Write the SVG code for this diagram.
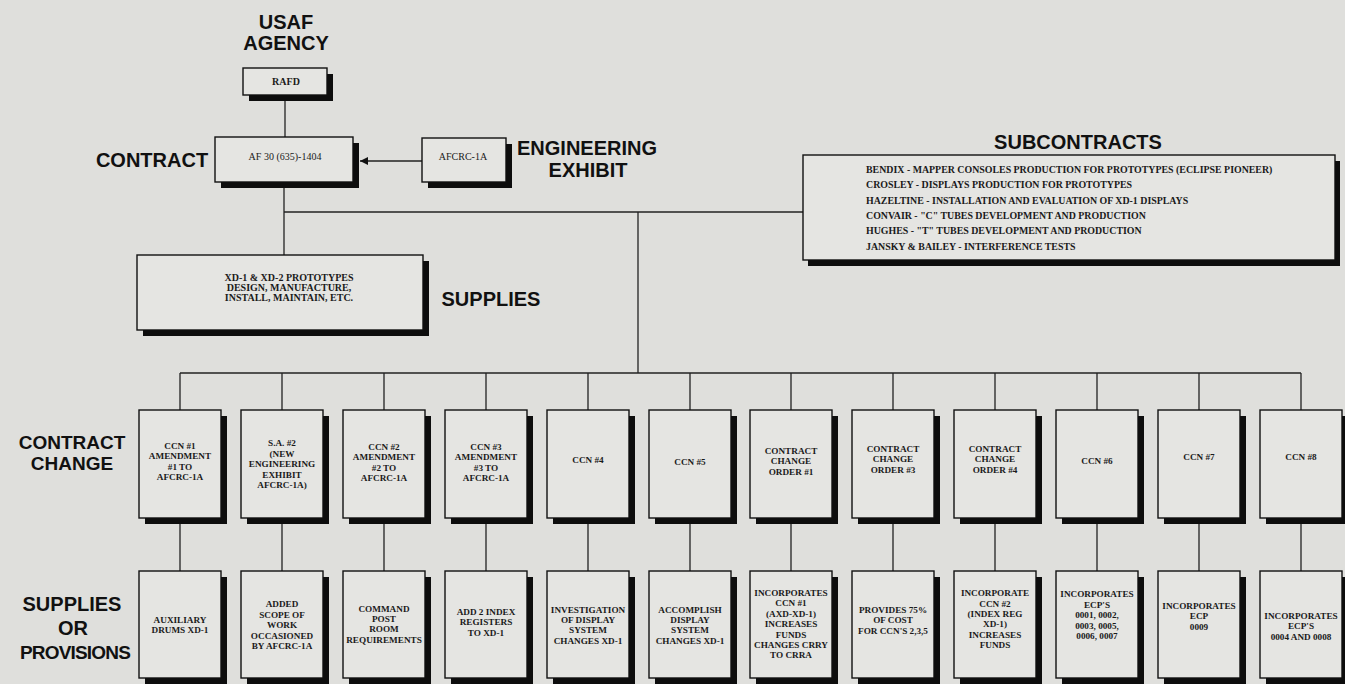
<svg xmlns="http://www.w3.org/2000/svg" width="1345" height="684" viewBox="0 0 1345 684">
<defs>
<style>
.bg{fill:#dfdfdc}
.box{fill:#e5e5e2;stroke:#111;stroke-width:1.4}
.sh{fill:#0d0d0d}
.conn{stroke:#222;stroke-width:1.3;fill:none}
.lbl{font-family:"Liberation Sans",Arial,sans-serif;font-weight:bold;font-size:20px;fill:#111;text-anchor:middle}
.t{font-family:"Liberation Serif","Times New Roman",serif;font-weight:bold;font-size:9.2px;fill:#1a1a1a;text-anchor:middle}
.tm{font-family:"Liberation Serif","Times New Roman",serif;font-weight:bold;font-size:10px;fill:#1a1a1a;text-anchor:middle}
.tr{font-family:"Liberation Serif","Times New Roman",serif;font-size:10px;fill:#1a1a1a;text-anchor:middle}
.ts{font-family:"Liberation Serif","Times New Roman",serif;font-weight:bold;font-size:9.9px;fill:#1a1a1a;text-anchor:start}
</style>
<marker id="arr" viewBox="0 0 10 10" refX="10" refY="5" markerWidth="9" markerHeight="8" markerUnits="userSpaceOnUse" orient="auto">
<path d="M0,0 L10,5 L0,10 z" fill="#111"/>
</marker>
</defs>
<rect class="bg" x="0" y="0" width="1345" height="684"/>

<g id="connectors">
<line class="conn" x1="285" y1="98" x2="285" y2="137"/>
<line class="conn" x1="422" y1="161" x2="360" y2="161" marker-end="url(#arr)"/>
<line class="conn" x1="284" y1="188" x2="284" y2="255"/>
<line class="conn" x1="284" y1="212" x2="803" y2="212"/>
<line class="conn" x1="638" y1="212" x2="638" y2="373"/>
<line class="conn" x1="180" y1="373" x2="1301" y2="373"/>
<path class="conn" d="M180,373V410M282,373V410M384,373V410M486,373V410M588,373V410M690,373V410M791,373V410M893,373V410M995,373V410M1097,373V410M1199,373V410M1301,373V410"/>
<path class="conn" d="M180,524V571M282,524V571M384,524V571M486,524V571M588,524V571M690,524V571M791,524V571M893,524V571M995,524V571M1097,524V571M1199,524V571M1301,524V571"/>
</g>

<g id="labels">
<text class="lbl" x="286" y="29">USAF</text>
<text class="lbl" x="286" y="50">AGENCY</text>
<text class="lbl" x="152" y="167">CONTRACT</text>
<text class="lbl" x="587" y="155">ENGINEERING</text>
<text class="lbl" x="588" y="177">EXHIBIT</text>
<text class="lbl" x="1078" y="149">SUBCONTRACTS</text>
<text class="lbl" x="491" y="306">SUPPLIES</text>
<text class="lbl" x="72" y="449" style="font-size:19px">CONTRACT</text>
<text class="lbl" x="72" y="470" style="font-size:19px">CHANGE</text>
<text class="lbl" x="72" y="611">SUPPLIES</text>
<text class="lbl" x="73" y="635">OR</text>
<text class="lbl" x="75" y="659" style="font-size:19px;letter-spacing:-0.8px">PROVISIONS</text>
</g>

<g id="rafd">
<rect class="sh" x="249" y="74" width="84" height="27"/>
<rect class="box" x="243" y="68" width="84" height="27"/>
<text class="tm" x="286" y="85">RAFD</text>
</g>

<g id="contract">
<rect class="sh" x="221" y="143" width="138" height="45"/>
<rect class="box" x="215" y="137" width="138" height="45"/>
<text class="tr" x="285" y="160">AF 30 (635)-1404</text>
</g>

<g id="afcrc">
<rect class="sh" x="428" y="144" width="84" height="44"/>
<rect class="box" x="422" y="138" width="84" height="44"/>
<text class="tr" x="463" y="160">AFCRC-1A</text>
</g>

<g id="supplies">
<rect class="sh" x="143" y="261" width="286" height="75"/>
<rect class="box" x="137" y="255" width="286" height="75"/>
<text class="tm" x="289" y="281">XD-1 &amp; XD-2 PROTOTYPES</text>
<text class="tm" x="289" y="291">DESIGN, MANUFACTURE,</text>
<text class="tm" x="289" y="300.5">INSTALL, MAINTAIN, ETC.</text>
</g>

<g id="subcontracts">
<rect class="sh" x="808" y="161" width="532" height="105"/>
<rect class="box" x="803" y="155" width="532" height="105"/>
<text class="ts" x="866" y="173">BENDIX - MAPPER CONSOLES PRODUCTION FOR PROTOTYPES (ECLIPSE PIONEER)</text>
<text class="ts" x="866" y="188.3">CROSLEY - DISPLAYS PRODUCTION FOR PROTOTYPES</text>
<text class="ts" x="866" y="203.6">HAZELTINE - INSTALLATION AND EVALUATION OF XD-1 DISPLAYS</text>
<text class="ts" x="866" y="218.9">CONVAIR - "C" TUBES DEVELOPMENT AND PRODUCTION</text>
<text class="ts" x="866" y="234.2">HUGHES - "T" TUBES DEVELOPMENT AND PRODUCTION</text>
<text class="ts" x="866" y="249.5">JANSKY &amp; BAILEY - INTERFERENCE TESTS</text>
</g>

<!-- Contract change row -->
<g id="cc1"><rect class="sh" x="145" y="416" width="82" height="108"/><rect class="box" x="139" y="410" width="82" height="108"/>
<text class="t" x="180" y="448.5">CCN #1<tspan x="180" dy="10.5">AMENDMENT</tspan><tspan x="180" dy="10.5">#1 TO</tspan><tspan x="180" dy="10.5">AFCRC-1A</tspan></text></g>
<g id="cc2"><rect class="sh" x="247" y="416" width="82" height="108"/><rect class="box" x="241" y="410" width="82" height="108"/>
<text class="t" x="282" y="446">S.A. #2<tspan x="282" dy="10.5">(NEW</tspan><tspan x="282" dy="10.5">ENGINEERING</tspan><tspan x="282" dy="10.5">EXHIBIT</tspan><tspan x="282" dy="10.5">AFCRC-1A)</tspan></text></g>
<g id="cc3"><rect class="sh" x="349" y="416" width="82" height="108"/><rect class="box" x="343" y="410" width="82" height="108"/>
<text class="t" x="384" y="449.5">CCN #2<tspan x="384" dy="10.5">AMENDMENT</tspan><tspan x="384" dy="10.5">#2 TO</tspan><tspan x="384" dy="10.5">AFCRC-1A</tspan></text></g>
<g id="cc4"><rect class="sh" x="451" y="416" width="82" height="108"/><rect class="box" x="445" y="410" width="82" height="108"/>
<text class="t" x="486" y="449.5">CCN #3<tspan x="486" dy="10.5">AMENDMENT</tspan><tspan x="486" dy="10.5">#3 TO</tspan><tspan x="486" dy="10.5">AFCRC-1A</tspan></text></g>
<g id="cc5"><rect class="sh" x="553" y="416" width="82" height="108"/><rect class="box" x="547" y="410" width="82" height="108"/>
<text class="t" x="588" y="463">CCN #4</text></g>
<g id="cc6"><rect class="sh" x="655" y="416" width="82" height="108"/><rect class="box" x="649" y="410" width="82" height="108"/>
<text class="t" x="690" y="465">CCN #5</text></g>
<g id="cc7"><rect class="sh" x="756" y="416" width="82" height="108"/><rect class="box" x="750" y="410" width="82" height="108"/>
<text class="t" x="791" y="453.7">CONTRACT<tspan x="791" dy="10.5">CHANGE</tspan><tspan x="791" dy="10.5">ORDER #1</tspan></text></g>
<g id="cc8"><rect class="sh" x="858" y="416" width="82" height="108"/><rect class="box" x="852" y="410" width="82" height="108"/>
<text class="t" x="893" y="451.7">CONTRACT<tspan x="893" dy="10.5">CHANGE</tspan><tspan x="893" dy="10.5">ORDER #3</tspan></text></g>
<g id="cc9"><rect class="sh" x="960" y="416" width="82" height="108"/><rect class="box" x="954" y="410" width="82" height="108"/>
<text class="t" x="995" y="451.7">CONTRACT<tspan x="995" dy="10.5">CHANGE</tspan><tspan x="995" dy="10.5">ORDER #4</tspan></text></g>
<g id="cc10"><rect class="sh" x="1062" y="416" width="82" height="108"/><rect class="box" x="1056" y="410" width="82" height="108"/>
<text class="t" x="1097" y="464">CCN #6</text></g>
<g id="cc11"><rect class="sh" x="1164" y="416" width="82" height="108"/><rect class="box" x="1158" y="410" width="82" height="108"/>
<text class="t" x="1199" y="460">CCN #7</text></g>
<g id="cc12"><rect class="sh" x="1266" y="416" width="82" height="108"/><rect class="box" x="1260" y="410" width="82" height="108"/>
<text class="t" x="1301" y="460">CCN #8</text></g>

<!-- Supplies or provisions row -->
<g id="sp1"><rect class="sh" x="145" y="577" width="82" height="107"/><rect class="box" x="139" y="571" width="82" height="107"/>
<text class="t" x="180" y="623">AUXILIARY<tspan x="180" dy="10.4">DRUMS XD-1</tspan></text></g>
<g id="sp2"><rect class="sh" x="247" y="577" width="82" height="107"/><rect class="box" x="241" y="571" width="82" height="107"/>
<text class="t" x="282" y="607.4">ADDED<tspan x="282" dy="10.4">SCOPE OF</tspan><tspan x="282" dy="10.4">WORK</tspan><tspan x="282" dy="10.4">OCCASIONED</tspan><tspan x="282" dy="10.4">BY AFCRC-1A</tspan></text></g>
<g id="sp3"><rect class="sh" x="349" y="577" width="82" height="107"/><rect class="box" x="343" y="571" width="82" height="107"/>
<text class="t" x="384" y="611.6">COMMAND<tspan x="384" dy="10.4">POST</tspan><tspan x="384" dy="10.4">ROOM</tspan><tspan x="384" dy="10.4">REQUIREMENTS</tspan></text></g>
<g id="sp4"><rect class="sh" x="451" y="577" width="82" height="107"/><rect class="box" x="445" y="571" width="82" height="107"/>
<text class="t" x="486" y="614.8">ADD 2 INDEX<tspan x="486" dy="10.4">REGISTERS</tspan><tspan x="486" dy="10.4">TO XD-1</tspan></text></g>
<g id="sp5"><rect class="sh" x="553" y="577" width="82" height="107"/><rect class="box" x="547" y="571" width="82" height="107"/>
<text class="t" x="588" y="612.6">INVESTIGATION<tspan x="588" dy="10.4">OF DISPLAY</tspan><tspan x="588" dy="10.4">SYSTEM</tspan><tspan x="588" dy="10.4">CHANGES XD-1</tspan></text></g>
<g id="sp6"><rect class="sh" x="655" y="577" width="82" height="107"/><rect class="box" x="649" y="571" width="82" height="107"/>
<text class="t" x="690" y="612.6">ACCOMPLISH<tspan x="690" dy="10.4">DISPLAY</tspan><tspan x="690" dy="10.4">SYSTEM</tspan><tspan x="690" dy="10.4">CHANGES XD-1</tspan></text></g>
<g id="sp7"><rect class="sh" x="756" y="577" width="82" height="107"/><rect class="box" x="750" y="571" width="82" height="107"/>
<text class="t" x="791" y="596">INCORPORATES<tspan x="791" dy="10.4">CCN #1</tspan><tspan x="791" dy="10.4">(AXD-XD-1)</tspan><tspan x="791" dy="10.4">INCREASES</tspan><tspan x="791" dy="10.4">FUNDS</tspan><tspan x="791" dy="10.4">CHANGES CRRY</tspan><tspan x="791" dy="10.4">TO CRRA</tspan></text></g>
<g id="sp8"><rect class="sh" x="858" y="577" width="82" height="107"/><rect class="box" x="852" y="571" width="82" height="107"/>
<text class="t" x="893" y="612.8">PROVIDES 75%<tspan x="893" dy="10.4">OF COST</tspan><tspan x="893" dy="10.4">FOR CCN'S 2,3,5</tspan></text></g>
<g id="sp9"><rect class="sh" x="960" y="577" width="82" height="107"/><rect class="box" x="954" y="571" width="82" height="107"/>
<text class="t" x="995" y="596.2">INCORPORATE<tspan x="995" dy="10.4">CCN #2</tspan><tspan x="995" dy="10.4">(INDEX REG</tspan><tspan x="995" dy="10.4">XD-1)</tspan><tspan x="995" dy="10.4">INCREASES</tspan><tspan x="995" dy="10.4">FUNDS</tspan></text></g>
<g id="sp10"><rect class="sh" x="1062" y="577" width="82" height="107"/><rect class="box" x="1056" y="571" width="82" height="107"/>
<text class="t" x="1097" y="597.4">INCORPORATES<tspan x="1097" dy="10.4">ECP'S</tspan><tspan x="1097" dy="10.4">0001, 0002,</tspan><tspan x="1097" dy="10.4">0003, 0005,</tspan><tspan x="1097" dy="10.4">0006, 0007</tspan></text></g>
<g id="sp11"><rect class="sh" x="1164" y="577" width="82" height="107"/><rect class="box" x="1158" y="571" width="82" height="107"/>
<text class="t" x="1199" y="608.8">INCORPORATES<tspan x="1199" dy="10.4">ECP</tspan><tspan x="1199" dy="10.4">0009</tspan></text></g>
<g id="sp12"><rect class="sh" x="1266" y="577" width="82" height="107"/><rect class="box" x="1260" y="571" width="82" height="107"/>
<text class="t" x="1301" y="618.8">INCORPORATES<tspan x="1301" dy="10.4">ECP'S</tspan><tspan x="1301" dy="10.4">0004 AND 0008</tspan></text></g>
</svg>
